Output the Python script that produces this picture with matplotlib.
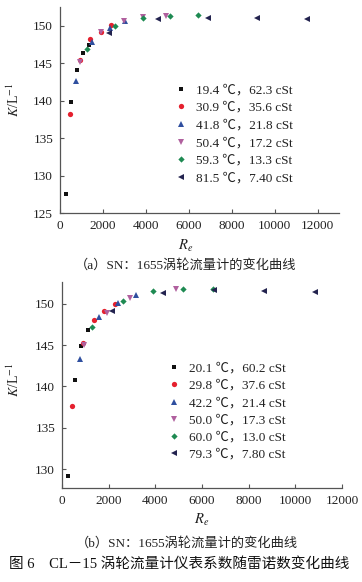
import matplotlib
matplotlib.use("Agg")
import matplotlib.pyplot as plt

plt.rcParams['font.family'] = ['Liberation Serif', 'Noto Sans CJK SC', 'DejaVu Sans']
plt.rcParams['mathtext.fontset'] = 'stix'

# ---------------- data: panel (a) ----------------
labels_a = ["19.4 ℃，62.3 cSt", "30.9 ℃，35.6 cSt", "41.8 ℃，21.8 cSt",
            "50.4 ℃，17.2 cSt", "59.3 ℃，13.3 cSt", "81.5 ℃，7.40 cSt"]
a1_x = [266, 514, 808, 1074, 1354]
a1_y = [127.6, 139.8, 144.1, 146.4, 147.5]
a2_x = [467, 949, 1416, 1930, 2366]
a2_y = [138.2, 145.4, 148.2, 149.2, 150.1]
a3_x = [762, 1480, 2335, 3035]
a3_y = [142.6, 147.8, 149.7, 150.7]
a4_x = [949, 1900, 3003, 3890, 4936]
a4_y = [145.2, 149.2, 150.7, 151.2, 151.35]
a5_x = [1276, 2568, 3860, 5137, 6413]
a5_y = [146.9, 150.0, 151.1, 151.35, 151.4]
a6_x = [2288, 4577, 6880, 9187, 11490]
a6_y = [149.1, 150.9, 151.0, 151.0, 150.9]

# ---------------- data: panel (b) ----------------
labels_b = ["20.1 ℃，60.2 cSt", "29.8 ℃，37.6 cSt", "42.2 ℃，21.4 cSt",
            "50.0 ℃，17.3 cSt", "60.0 ℃，13.0 cSt", "79.3 ℃，7.80 cSt"]
b1_x = [270, 570, 827, 1127]
b1_y = [129.2, 140.8, 144.9, 146.8]
b2_x = [441, 912, 1383, 1812, 2270]
b2_y = [137.7, 145.3, 148.0, 149.1, 150.0]
b3_x = [771, 1585, 2384, 3169]
b3_y = [143.3, 148.4, 150.1, 151.0]
b4_x = [942, 1942, 2912, 4870]
b4_y = [145.0, 148.9, 150.7, 151.7]
b5_x = [1298, 2600, 3910, 5196, 6480]
b5_y = [147.2, 150.3, 151.5, 151.7, 151.8]
b6_x = [2150, 4340, 6497, 8666, 10836]
b6_y = [149.1, 151.3, 151.6, 151.5, 151.4]

x_ticks = [0, 2000, 4000, 6000, 8000, 10000, 12000]
y_ticks_a = [125, 130, 135, 140, 145, 150]
y_ticks_b = [130, 135, 140, 145, 150]

markers = ['s', 'o', '^', 'v', 'D', '<']
colors = ['#111111', '#e5202e', '#2f4f9f', '#b0609e', '#1e8a52', '#23234f']
sizes = [3.4, 3.8, 4.0, 4.0, 3.2, 4.0]

W, H = 362, 582
fig = plt.figure(figsize=(W / 100, H / 100), dpi=100)

def px_axes(l, t, r, b):
    return fig.add_axes([l / W, 1 - b / H, (r - l) / W, (b - t) / H])

txt_col = '#222222'

def style(ax, xlim, ylim, yticks):
    ax.set_xlim(*xlim)
    ax.set_ylim(*ylim)
    ax.set_xticks(x_ticks)
    ax.set_yticks(yticks)
    for s in ['top', 'right']:
        ax.spines[s].set_visible(False)
    for s in ['left', 'bottom']:
        ax.spines[s].set_color('#555555')
        ax.spines[s].set_linewidth(0.9)
    ax.tick_params(direction='in', length=3, width=0.8, colors='#555555',
                   labelcolor=txt_col, labelsize=9.5, pad=5)

def draw(ax, series, labels, anchor, spacing):
    handles = []
    for (xs, ys), m, c, ms, lab in zip(series, markers, colors, sizes, labels):
        h, = ax.plot(xs, ys, linestyle='none', marker=m, color=c, ms=ms,
                     markeredgewidth=0, label=lab)
        handles.append(h)
    ax.legend(handles=handles, loc='upper left', bbox_to_anchor=anchor,
              bbox_transform=fig.transFigure, frameon=False, fontsize=9.5,
              handlelength=1.0, handletextpad=0.7, labelspacing=spacing,
              borderpad=0, borderaxespad=0, numpoints=1,
              labelcolor=txt_col)

# panel (a)
ax1 = px_axes(60, 7, 339, 213.3)
style(ax1, (0, 13000), (125, 152.5), y_ticks_a)
draw(ax1, [(a1_x, a1_y), (a2_x, a2_y), (a3_x, a3_y), (a4_x, a4_y),
           (a5_x, a5_y), (a6_x, a6_y)], labels_a, (174 / W, 1 - 84 / H), 0.41)

# panel (b)
ax2 = px_axes(62, 282, 342, 488)
style(ax2, (0, 12000), (127.75, 152.6), y_ticks_b)
draw(ax2, [(b1_x, b1_y), (b2_x, b2_y), (b3_x, b3_y), (b4_x, b4_y),
           (b5_x, b5_y), (b6_x, b6_y)], labels_b, (167 / W, 1 - 362.5 / H), 0.38)

# axis labels
fig.text(14 / W, 1 - 100 / H, r'$K$/L$^{-1}$', rotation=90, ha='center',
         va='center', fontsize=10, color=txt_col)
fig.text(14 / W, 1 - 380 / H, r'$K$/L$^{-1}$', rotation=90, ha='center',
         va='center', fontsize=10, color=txt_col)
fig.text(186 / W, 1 - 246 / H, r'$R_e$', ha='center', va='center',
         fontsize=10.5, color=txt_col)
fig.text(202 / W, 1 - 520 / H, r'$R_e$', ha='center', va='center',
         fontsize=10.5, color=txt_col)

# captions
fig.text(186 / W, 1 - 265 / H, '（a）SN：1655涡轮流量计的变化曲线', ha='center',
         va='center', fontsize=9.5, color=txt_col)
fig.text(187 / W, 1 - 543 / H, '（b）SN：1655涡轮流量计的变化曲线', ha='center',
         va='center', fontsize=9.5, color=txt_col)
fig.text(179 / W, 1 - 564 / H, '图 6　CL－15 涡轮流量计仪表系数随雷诺数变化曲线',
         ha='center', va='center', fontsize=10.5, color='#111111')

fig.savefig('out.png', dpi=100)
